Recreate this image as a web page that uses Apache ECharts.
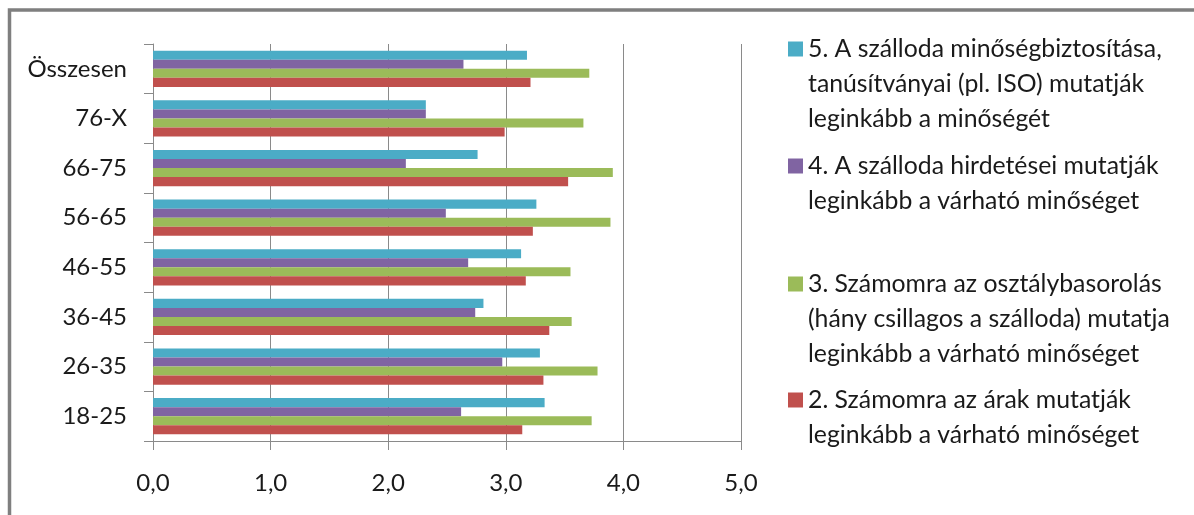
<!DOCTYPE html>
<html>
<head>
<meta charset="utf-8">
<script src="https://cdn.jsdelivr.net/npm/echarts@6/dist/echarts.min.js"></script>
<style>
  html, body { margin: 0; padding: 0; background: #ffffff; }
  #chart { width: 1194px; height: 515px; }
</style>
</head>
<body>
<div id="chart"></div>
<script>
// Age groups, bottom to top on the category axis
const categories = ['18-25', '26-35', '36-45', '46-55', '56-65', '66-75', '76-X', 'Összesen'];

// Mean agreement scores per age group
const s5 = [3.33, 3.29, 2.81, 3.13, 3.26, 2.76, 2.32, 3.18];
const s4 = [2.62, 2.97, 2.74, 2.68, 2.49, 2.15, 2.32, 2.64];
const s3 = [3.73, 3.78, 3.56, 3.55, 3.89, 3.91, 3.66, 3.71];
const s2 = [3.14, 3.32, 3.37, 3.17, 3.23, 3.53, 2.99, 3.21];

const names = [
  '5. A szálloda minőségbiztosítása,\ntanúsítványai (pl. ISO) mutatják\nleginkább a minőségét',
  '4. A szálloda hirdetései mutatják\nleginkább a várható minőséget',
  '3. Számomra az osztálybasorolás\n(hány csillagos a szálloda) mutatja\nleginkább a várható minőséget',
  '2. Számomra az árak mutatják\nleginkább a várható minőséget'
];

const xTickLabels = ['0,0', '1,0', '2,0', '3,0', '4,0', '5,0'];

const colors = ['#4BACC6', '#8064A2', '#9BBB59', '#C0504D'];
const values = [s5, s4, s3, s2];

const FONT = 'Lato';
const TEXT = '#1a1a1a';
const LINE_H = 35;

// one legend per entry so each block sits at its own height;
// leading blank lines keep the swatch level with the first text line
const legendRows = [49, 166, 284, 400];
const legends = names.map((n, i) => {
  const lines = n.split('\n').length;
  return {
    data: [n],
    orient: 'vertical',
    left: 788,
    top: legendRows[i] - (2 * lines - 1) * LINE_H / 2,
    padding: 0,
    itemWidth: 15,
    itemHeight: 15,
    icon: 'rect',
    selectedMode: false,
    formatter: name => '\n'.repeat(lines - 1) + name,
    textStyle: {
      fontFamily: FONT,
      fontSize: 24.8,
      color: TEXT,
      lineHeight: LINE_H
    }
  };
});

const chart = echarts.init(document.getElementById('chart'), null, { renderer: 'canvas' });

chart.setOption({
  backgroundColor: '#ffffff',
  animation: false,
  textStyle: { fontFamily: FONT },
  grid: { left: 153, right: 453, top: 44, bottom: 74, containLabel: false },
  legend: legends,
  xAxis: {
    type: 'value',
    min: 0,
    max: 5,
    interval: 1,
    axisLine: { show: true, lineStyle: { color: '#8a8a8a', width: 1 } },
    axisTick: { show: true, length: 9, lineStyle: { color: '#8a8a8a' } },
    splitLine: { show: true, lineStyle: { color: '#8a8a8a', width: 1 } },
    axisLabel: {
      fontFamily: FONT,
      fontSize: 24,
      color: TEXT,
      margin: 30,
      formatter: v => xTickLabels[Math.round(v)]
    }
  },
  yAxis: {
    type: 'category',
    data: categories,
    axisLine: { show: true, lineStyle: { color: '#8a8a8a', width: 1 } },
    axisTick: { show: true, length: 9, lineStyle: { color: '#8a8a8a' } },
    splitLine: { show: false },
    axisLabel: { fontFamily: FONT, fontSize: 24, color: TEXT, margin: 26 }
  },
  series: names.map((n, i) => ({
    name: n,
    type: 'bar',
    data: values[i],
    barCategoryGap: '27%',
    barGap: '0%',
    itemStyle: { color: colors[i], borderWidth: 0 }
  })),
  graphic: [{
    type: 'rect',
    silent: true,
    shape: { x: 9.5, y: 10, width: 1300, height: 700 },
    style: { fill: 'none', stroke: '#7f7f7f', lineWidth: 3.5 }
  }]
});
</script>
</body>
</html>
